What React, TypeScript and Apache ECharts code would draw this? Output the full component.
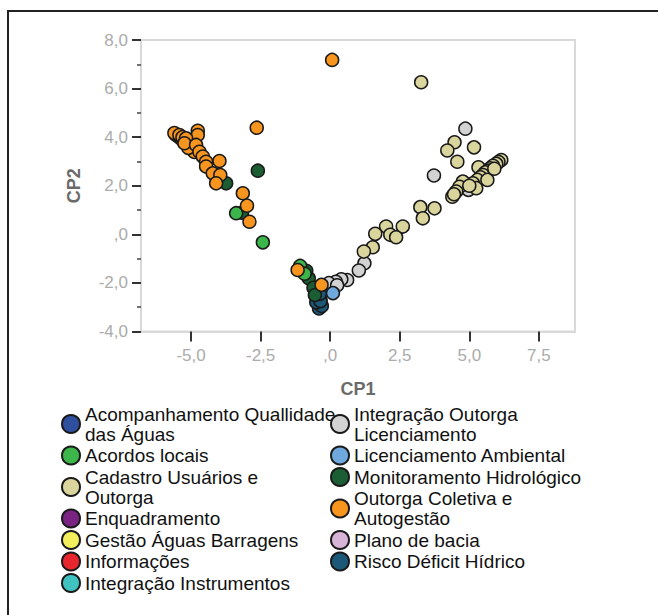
import React, { useEffect, useRef } from "react";
import * as echarts from "echarts";

const FONT = "'Liberation Sans', Arial, sans-serif";

const categoryNames = [
  "Acompanhamento Quallidade\ndas Águas",
  "Acordos locais",
  "Cadastro Usuários e\nOutorga",
  "Enquadramento",
  "Gestão Águas Barragens",
  "Informações",
  "Integração Instrumentos",
  "Integração Outorga\nLicenciamento",
  "Licenciamento Ambiental",
  "Monitoramento Hidrológico",
  "Outorga Coletiva e\nAutogestão",
  "Plano de bacia",
  "Risco Déficit Hídrico",
];

const categoryColors = [
  "#2f4f9f",
  "#3cb54a",
  "#d9d59c",
  "#7a2383",
  "#f3ef5c",
  "#e8262d",
  "#40c2c0",
  "#d3d3d3",
  "#6fa8dc",
  "#1b5e33",
  "#f7951e",
  "#d8b4d8",
  "#1c5877",
];

const acompanhamento = [[-0.35, -2.7]];
const acordosLocais = [[-3.38, 0.87], [-2.42, -0.33], [-1.08, -1.3], [-0.92, -1.62]];
const cadastro = [
  [3.27, 6.26], [4.47, 3.79], [4.21, 3.45], [5.17, 3.58], [4.57, 2.99], [5.33, 2.76],
  [6.15, 3.06], [6.05, 2.98], [5.97, 2.9], [5.85, 2.82], [5.75, 2.72], [5.67, 2.62],
  [5.58, 2.55], [5.49, 2.44], [5.4, 2.35], [5.29, 2.24], [5.13, 2.1], [4.77, 2.17],
  [4.65, 1.96], [4.53, 1.76], [4.39, 1.55], [4.45, 1.65], [5.25, 1.9], [5.65, 2.24],
  [5.0, 2.0], [5.9, 2.7], [3.24, 1.12], [3.33, 0.66], [3.75, 1.07], [2.01, 0.32],
  [2.61, 0.32], [2.16, -0.02], [2.37, -0.12], [1.62, 0.02], [1.53, -0.53], [1.21, -0.71],
];
const enquadramento = [[-0.4, -2.6]];
const gestaoBarragens = [[-0.38, -2.65]];
const informacoes = [[-0.42, -2.75]];
const integracaoInstrumentos = [[-0.36, -2.8]];
const integracaoOutorga = [
  [4.86, 4.35], [3.73, 2.42], [4.97, 1.83], [1.23, -1.19], [1.03, -1.49], [0.61, -1.88],
  [0.4, -1.85], [0.2, -1.95], [-0.05, -2.01], [0.25, -2.1],
];
const licenciamento = [[0.1, -2.42]];
const monitoramento = [
  [-5.55, 4.1], [-5.45, 4.02], [-5.35, 3.92], [-2.6, 2.62], [-3.74, 2.1], [-3.17, 0.89],
  [-0.77, -1.81], [-0.86, -1.5], [-0.6, -2.2], [-0.55, -2.5],
];
const outorgaColetiva = [
  [-5.6, 4.17], [-5.42, 4.09], [-5.31, 4.0], [-5.13, 3.8], [-4.99, 3.6], [-4.88, 3.39],
  [-5.1, 3.56], [-4.76, 4.26], [-4.76, 4.09], [-5.18, 3.95], [-5.24, 3.75], [-4.82, 3.68],
  [-4.7, 3.4], [-4.58, 3.2], [-4.46, 2.99], [-3.98, 3.02], [-4.46, 2.79], [-4.22, 2.51],
  [-3.95, 2.44], [-4.1, 2.1], [-3.14, 1.69], [-2.99, 1.18], [-2.9, 0.52], [-2.64, 4.39],
  [0.07, 7.18], [-1.17, -1.47], [-0.31, -2.08],
];
const planoBacia = [[-0.5, -2.2]];
const riscoDeficit = [[-0.4, -3.05], [-0.3, -2.95], [-0.5, -2.8], [-0.35, -2.75], [-0.37, -2.45]];

const categoryData = [
  acompanhamento, acordosLocais, cadastro, enquadramento, gestaoBarragens, informacoes,
  integracaoInstrumentos, integracaoOutorga, licenciamento, monitoramento, outorgaColetiva,
  planoBacia, riscoDeficit,
];

// draw order (later drawn on top)
const drawOrder = [0, 3, 4, 5, 6, 11, 12, 7, 2, 9, 1, 10, 8];

const xTicks = [-5, -2.5, 0, 2.5, 5, 7.5];

const fmt = (v: number) => {
  let s = v.toFixed(1).replace(".", ",");
  if (s.startsWith("0,")) s = s.slice(1);
  if (s === "-0,0") s = ",0";
  return s;
};

export default function App() {
  const ref = useRef<HTMLDivElement>(null);
  useEffect(() => {
    const chart = echarts.init(ref.current!, null, { renderer: "svg" });
    const legendBase = {
      orient: "vertical" as const,
      top: 404,
      padding: 0,
      itemWidth: 18,
      itemHeight: 18,
      itemGap: 1.5,
      icon: "circle",
      selectedMode: false,
      textStyle: { fontSize: 19, lineHeight: 20, color: "#111", fontFamily: FONT },
    };
    chart.setOption({
      animation: false,
      textStyle: { fontFamily: FONT },
      graphic: [
        {
          type: "rect",
          shape: { x: 8, y: 11, width: 700, height: 700 },
          style: { fill: "none", stroke: "#222", lineWidth: 2 },
          silent: true,
        },
      ],
      grid: {
        left: 141,
        right: 83,
        top: 40,
        bottom: 283.5,
        show: true,
        borderColor: "#d9d9d9",
        borderWidth: 2,
      },
      legend: [
        { ...legendBase, left: 61, data: categoryNames.slice(0, 7) },
        { ...legendBase, left: 330, data: categoryNames.slice(7) },
      ],
      xAxis: {
        type: "value",
        min: -6.8,
        max: 8.8,
        name: "CP1",
        nameLocation: "middle",
        nameGap: 48,
        nameTextStyle: { fontSize: 18, fontWeight: "bold", color: "#6a6a6a", fontFamily: FONT },
        axisLine: { show: true, onZero: false, lineStyle: { color: "#d9d9d9", width: 2 } },
        axisTick: { show: true, length: 10, customValues: xTicks, lineStyle: { color: "#333", width: 2 } },
        axisLabel: {
          customValues: xTicks,
          formatter: fmt,
          fontSize: 17,
          color: "#ababab",
          margin: 15,
          fontFamily: FONT,
        },
        splitLine: { show: false },
      },
      yAxis: {
        type: "value",
        min: -4,
        max: 8,
        interval: 2,
        name: "CP2",
        nameLocation: "middle",
        nameGap: 58,
        nameRotate: 90,
        nameTextStyle: { fontSize: 18, fontWeight: "bold", color: "#6a6a6a", fontFamily: FONT },
        axisLine: { show: true, onZero: false, lineStyle: { color: "#d9d9d9", width: 2 } },
        axisTick: { show: true, length: 9, lineStyle: { color: "#333", width: 2 } },
        minorTick: { show: true, splitNumber: 2, length: 4, lineStyle: { color: "#444", width: 1.5 } },
        axisLabel: { formatter: fmt, fontSize: 17, color: "#ababab", margin: 13, fontFamily: FONT },
        splitLine: { show: false },
        minorSplitLine: { show: false },
      },
      series: drawOrder.map((i) => ({
        type: "scatter",
        name: categoryNames[i],
        data: categoryData[i],
        symbolSize: 13,
        itemStyle: { color: categoryColors[i], borderColor: "#1a1a1a", borderWidth: 1.5, opacity: 1 },
        emphasis: { disabled: true },
      })),
    });
    return () => chart.dispose();
  }, []);
  return (
    <div
      ref={ref}
      style={{ position: "absolute", left: 0, top: 0, width: 658, height: 615, background: "#fff" }}
    />
  );
}
